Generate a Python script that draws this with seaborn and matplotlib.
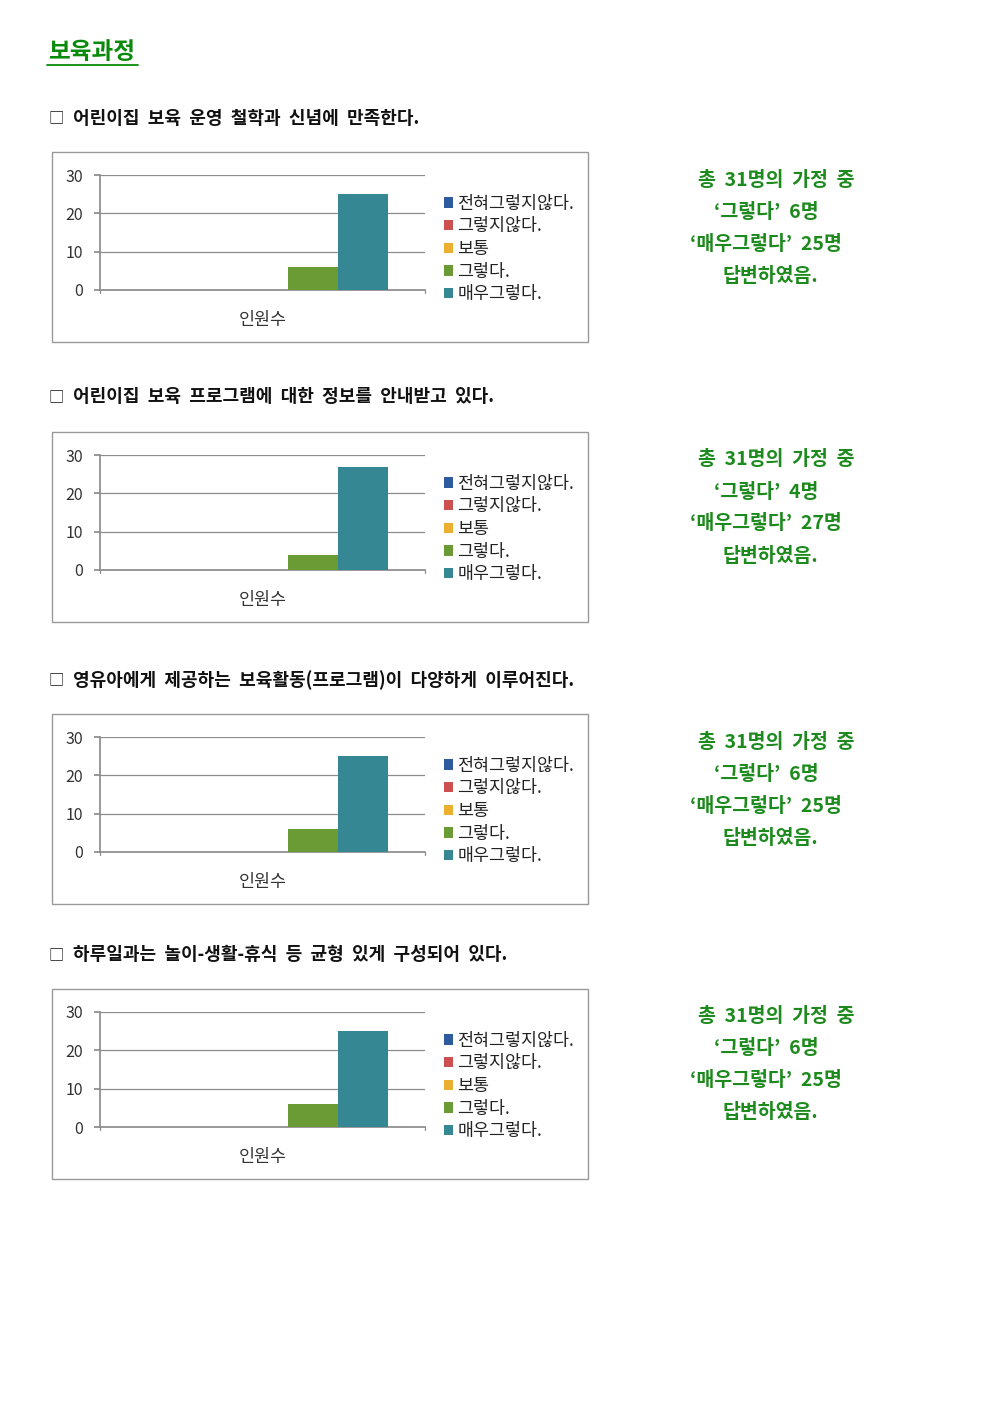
import pandas as pd
import seaborn as sns
import matplotlib.pyplot as plt
from matplotlib.patches import Rectangle
from matplotlib.lines import Line2D

sns.set_theme(style="white")
plt.rcParams['font.family'] = ['Noto Sans CJK KR', 'DejaVu Sans']

W, H = 992, 1403

# 데이터
title = "보육과정"
categories = ["전혀그렇지않다.", "그렇지않다.", "보통", "그렇다.", "매우그렇다."]
colors = ["#2d5b9e", "#cd4f4f", "#ecb030", "#6b9b35", "#348793"]
questions = [
    "어린이집  보육  운영  철학과  신념에  만족한다.",
    "어린이집  보육  프로그램에  대한  정보를  안내받고  있다.",
    "영유아에게  제공하는  보육활동(프로그램)이  다양하게  이루어진다.",
    "하루일과는  놀이-생활-휴식  등  균형  있게  구성되어  있다.",
]
values_q1 = [0, 0, 0, 6, 25]
values_q2 = [0, 0, 0, 4, 27]
values_q3 = [0, 0, 0, 6, 25]
values_q4 = [0, 0, 0, 6, 25]
all_values = [values_q1, values_q2, values_q3, values_q4]
total = 31
yticks = [0, 10, 20, 30]

# 레이아웃 (픽셀)
q_y = [118, 397, 680, 955]
box_top = [152, 432, 714, 989]
zero_y = [290, 570, 852, 1127]

fig = plt.figure(figsize=(W / 100, H / 100), dpi=100)


def fx(px):
    return px / W


def fy(py):
    return 1 - py / H


green = "#1d8a1d"

fig.text(fx(48), fy(52), title, fontsize=17, fontweight='bold', color="#0a8a0a",
         ha='left', va='center')
fig.add_artist(Line2D([fx(47), fx(138)], [fy(65), fy(65)], color="#0a8a0a", lw=1.3))

for i, vals in enumerate(all_values):
    fig.text(fx(49), fy(q_y[i]), "□", fontsize=11, ha='left', va='center', color='#111111')
    fig.text(fx(73), fy(q_y[i]), questions[i], fontsize=13, fontweight='bold',
             ha='left', va='center', color='#111111')

    fig.add_artist(Rectangle((fx(52), fy(box_top[i] + 190)), fx(536), 190 / H,
                             fill=False, edgecolor='#999999', lw=1.0,
                             transform=fig.transFigure))

    ax = fig.add_axes([fx(100), fy(zero_y[i]), fx(325), 115 / H])
    df = pd.DataFrame({"cat": ["인원수"] * len(categories), "label": categories, "n": vals})
    sns.barplot(data=df, x="cat", y="n", hue="label", hue_order=categories,
                palette=colors, width=0.77, dodge=True, saturation=1, linewidth=0,
                ax=ax, zorder=3)
    ax.set_ylim(0, 30)
    ax.set_xlim(-0.5, 0.5)
    ax.set_yticks(yticks)
    ax.set_xlabel("")
    ax.set_ylabel("")
    ax.set_xticks([0])
    ax.set_xticklabels(["인원수"])
    ax.grid(axis='y', color='#8c8c8c', lw=0.9, zorder=0)
    ax.set_axisbelow(True)
    for s in ['top', 'right']:
        ax.spines[s].set_visible(False)
    ax.spines['left'].set_color('#8c8c8c')
    ax.spines['bottom'].set_color('#8c8c8c')
    ax.tick_params(axis='y', length=4, color='#8c8c8c', labelsize=11.5,
                   labelcolor='#333333', pad=8, left=True)
    ax.tick_params(axis='x', length=0, labelsize=12.5, labelcolor='#333333', pad=15)
    for xe in [-0.5, 0.5]:
        ax.plot([xe, xe], [0, -0.9], color='#8c8c8c', lw=0.9, clip_on=False)

    handles, labels = ax.get_legend_handles_labels()
    ax.legend(handles, labels, loc='center left',
              bbox_to_anchor=(fx(435), fy(zero_y[i] - 41)), bbox_transform=fig.transFigure,
              frameon=False, fontsize=12.5, handlelength=0.55, handleheight=0.55,
              handletextpad=0.25, labelspacing=0.27, borderpad=0, labelcolor='#222222')

    lines = [
        (698, f"총  {total}명의  가정  중"),
        (714, f"‘그렇다’  {vals[3]}명"),
        (690, f"‘매우그렇다’  {vals[4]}명"),
        (723, "답변하였음."),
    ]
    top = box_top[i] + 28
    for k, (xp, txt) in enumerate(lines):
        fig.text(fx(xp), fy(top + k * 32), txt, fontsize=14, fontweight='bold',
                 color=green, ha='left', va='center')

fig.savefig("out.png", dpi=100)
